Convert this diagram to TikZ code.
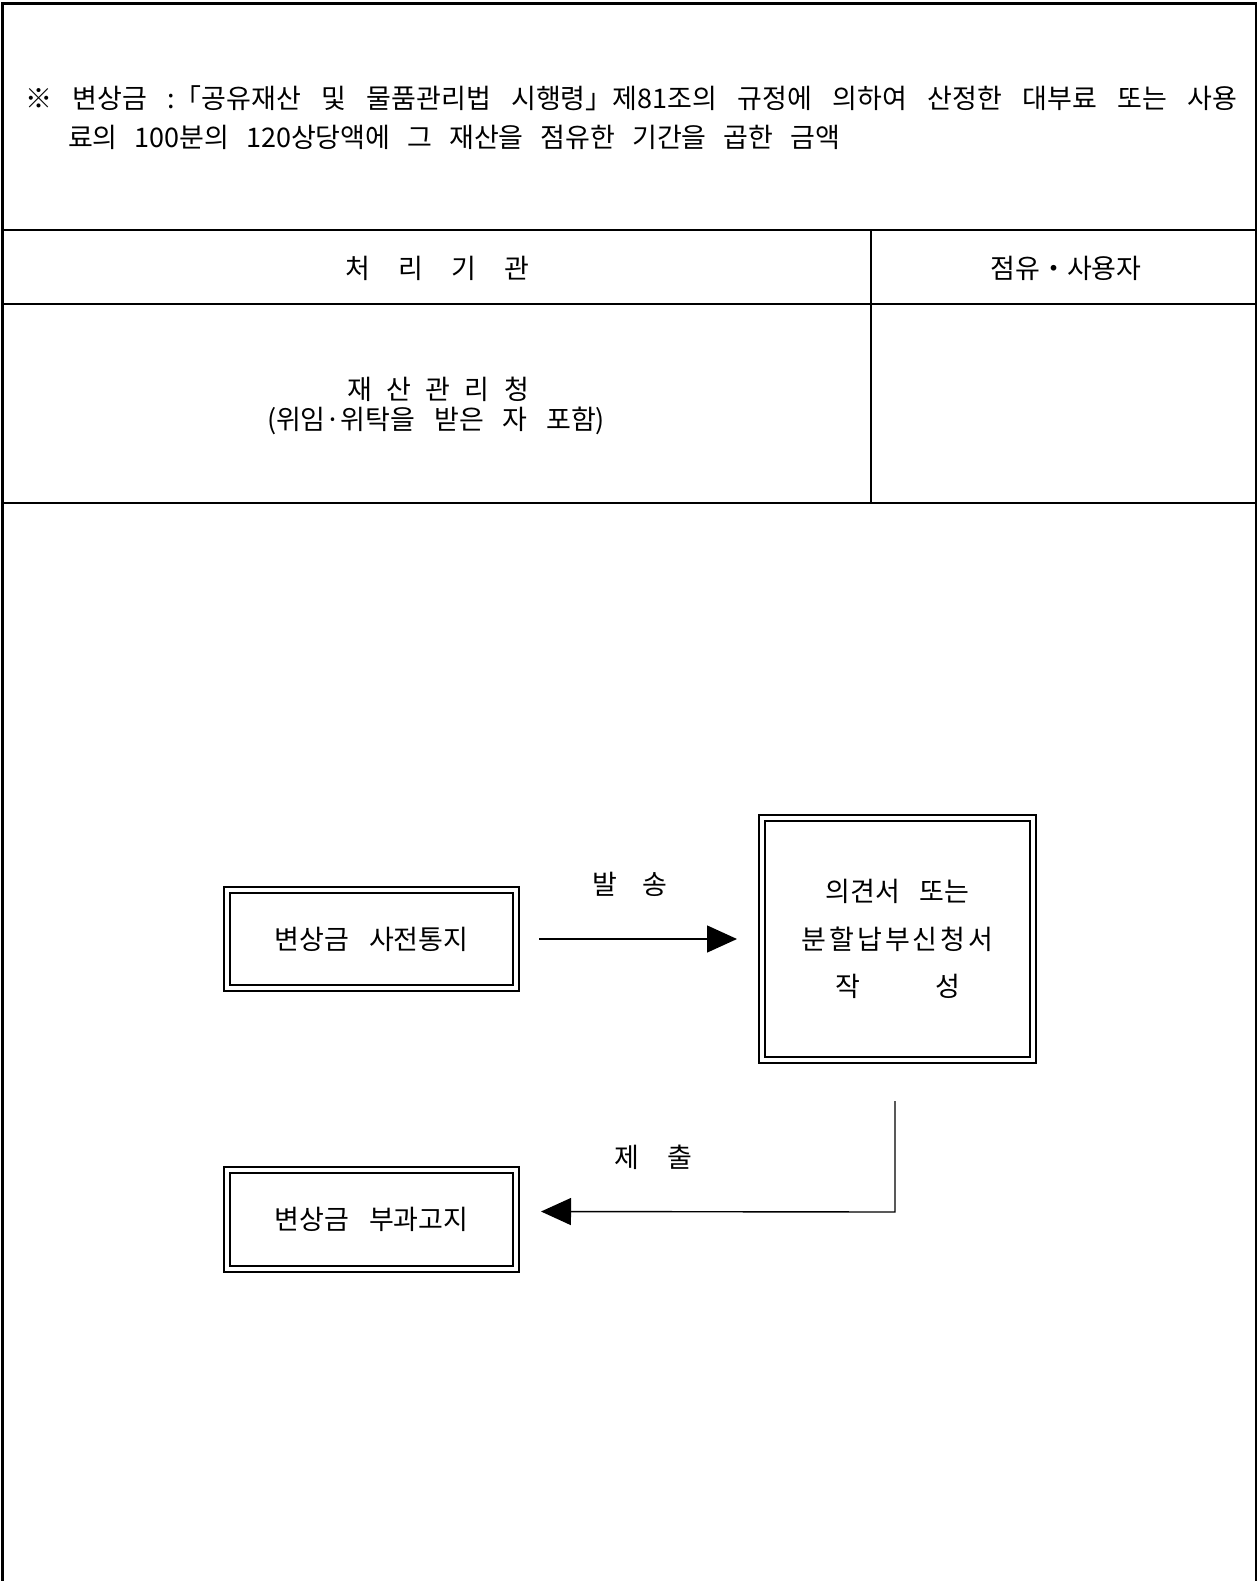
\documentclass[tikz,border=0pt]{standalone}
\usepackage{fontspec}
\setmainfont{Noto Sans CJK KR}
\usetikzlibrary{arrows.meta}
\begin{document}
\begin{tikzpicture}[x=1pt,y=-1pt,
  every node/.style={inner sep=0pt,outer sep=0pt,font=\fontsize{27}{32}\selectfont},
  lbl/.style={text height=22pt,text depth=2pt},
  frame/.style={line width=3pt},
  rule/.style={line width=1.4pt},
  dbox/.style={draw,line width=2.4pt,align=center},
  dboxout/.style={line width=1.3pt},
  conn/.style={line width=1.4pt,-{Triangle[length=30pt,width=27pt]}}]
\useasboundingbox (0,0) rectangle (1258,1581);
% outer frame and table rules
\draw[frame] (2.5,1581) -- (2.5,4) -- (1256.7,4);
\draw[rule] (1256,4) -- (1256,1581);
\draw[rule] (2.5,230) -- (1256,230);
\draw[rule] (2.5,304) -- (1256,304);
\draw[rule] (2.5,503) -- (1256,503);
\draw[rule] (871,230) -- (871,503);
% note text
\node[lbl,anchor=west] (note1) at (25,99) {\makebox[1212pt][s]{※ 변상금 :「공유재산 및 물품관리법 시행령」제81조의 규정에 의하여 산정한 대부료 또는 사용}};
\node[lbl,anchor=west] (note2) at (68,138) {\makebox[772pt][s]{료의 100분의 120상당액에 그 재산을 점유한 기간을 곱한 금액}};
% header
\node[lbl] (h1) at (437,268) {\makebox[184pt][s]{처 리 기 관}};
\node[lbl] (h2) at (1066,268) {점유・사용자};
\node[lbl] (c1) at (438,389) {\makebox[182pt][s]{재 산 관 리 청}};
\node[lbl] (c2) at (436,419) {\makebox[338pt][s]{(위임·위탁을 받은 자 포함)}};
% boxes
\node[dbox,minimum width=283pt,minimum height=92pt] (b1) at (371.5,939) {\makebox[194pt][s]{변상금 사전통지}};
\draw[dboxout] ([shift={(-6pt,6pt)}]b1.north west) rectangle ([shift={(6pt,-6pt)}]b1.south east);
\node[dbox,minimum width=265pt,minimum height=236pt,font=\fontsize{27}{47.5}\selectfont] (b2) at (897.5,939) {\makebox[144pt][s]{의견서 또는}\\\makebox[192pt][s]{분\hfil 할\hfil 납\hfil 부\hfil 신\hfil 청\hfil 서}\\\makebox[125pt][s]{작 성}};
\draw[dboxout] ([shift={(-6pt,6pt)}]b2.north west) rectangle ([shift={(6pt,-6pt)}]b2.south east);
\node[dbox,minimum width=283pt,minimum height=93pt] (b3) at (371.5,1219.5) {\makebox[194pt][s]{변상금 부과고지}};
\draw[dboxout] ([shift={(-6pt,6pt)}]b3.north west) rectangle ([shift={(6pt,-6pt)}]b3.south east);
% connectors
\coordinate (a1s) at ([xshift=26pt]b1.east);
\coordinate (a1e) at ([xshift=-28pt]b2.west);
\draw[conn] (a1s) -- (a1e);
\node[lbl] (l1) at (630,884) {\makebox[75pt][s]{발 송}};
\coordinate (a2s) at (895,1101);
\coordinate (a2c) at (895,1212);
\coordinate (a2e) at ([shift={(28pt,8pt)}]b3.east);
\draw[conn] (a2s) -- (a2c) -- (a2e);
\node[lbl] (l2) at (653,1157) {\makebox[78pt][s]{제 출}};
\end{tikzpicture}
\end{document}
